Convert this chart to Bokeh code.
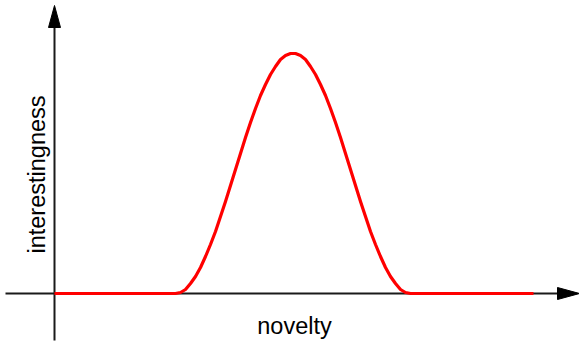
import math
from bokeh.plotting import figure
from bokeh.core.properties import value
from bokeh.embed import file_html
from bokeh.resources import INLINE

# curve (x: novelty, y: interestingness, origin at axis crossing)
novelty = [0,
           121, 126, 131, 136, 141, 146, 151, 156, 161, 166, 171, 176,
           181, 186, 191, 196, 201, 206, 211, 216, 221, 226, 231, 236,
           241, 246, 251, 256, 261, 266, 271, 276, 281, 286, 291, 296,
           301, 306, 311, 316, 321, 326, 331, 336, 341, 346, 351, 356,
           479]
interest = [0,
            0, 1, 4, 10, 17, 26, 37, 49, 62, 77, 92, 108,
            124, 140, 156, 171, 185, 198, 209, 219, 227, 234, 238, 240,
            240, 238, 234, 227, 219, 209, 198, 185, 171, 156, 140, 124,
            108, 92, 77, 62, 49, 37, 26, 17, 10, 4, 1, 0,
            0]

x_axis_extent = [-49, 525]
y_axis_extent = [-47, 288]
x_label = "novelty"
y_label = "interestingness"

# page placement (figure occupies the whole window)
L, T = 0, 0
W, H = 579, 343
OX, OY = 54, 293

p = figure(width=W, height=H, output_backend="svg", toolbar_location=None,
           x_range=(L - OX, L + W - OX), y_range=(OY - (T + H), OY - T),
           min_border=0, outline_line_color=None)
p.axis.visible = False
p.grid.visible = False
p.background_fill_color = "white"
p.border_fill_color = "white"

axc = "#1a1a1a"
head_len, head_half = 22, 6
p.segment(x0=[x_axis_extent[0]], y0=[0], x1=[x_axis_extent[1] - head_len + 2], y1=[0],
          line_color=axc, line_width=2)
p.segment(x0=[0], y0=[y_axis_extent[0]], x1=[0], y1=[y_axis_extent[1] - head_len + 2],
          line_color=axc, line_width=2)
xe, ye = x_axis_extent[1], y_axis_extent[1]
p.patches(xs=[[xe, xe - head_len, xe - head_len], [0, -head_half, head_half]],
          ys=[[0, head_half, -head_half], [ye, ye - head_len, ye - head_len]],
          fill_color="black", line_color="black", line_width=1)

p.line(novelty, interest, line_color="#ff0000", line_width=3.2, line_join="round", line_cap="butt")

p.text(x=[294 - OX], y=[OY - 325], text=[x_label], text_align="center",
       text_baseline="alphabetic", text_font=value("Liberation Sans"),
       text_font_size="23.5px", text_color="black")
p.text(x=[36 - OX], y=[OY - 174], text=[y_label], angle=math.pi / 2, text_align="center",
       text_baseline="alphabetic", text_font=value("Liberation Sans"),
       text_font_size="23.5px", text_color="black")

open("out.html", "w").write(file_html(p, INLINE))
